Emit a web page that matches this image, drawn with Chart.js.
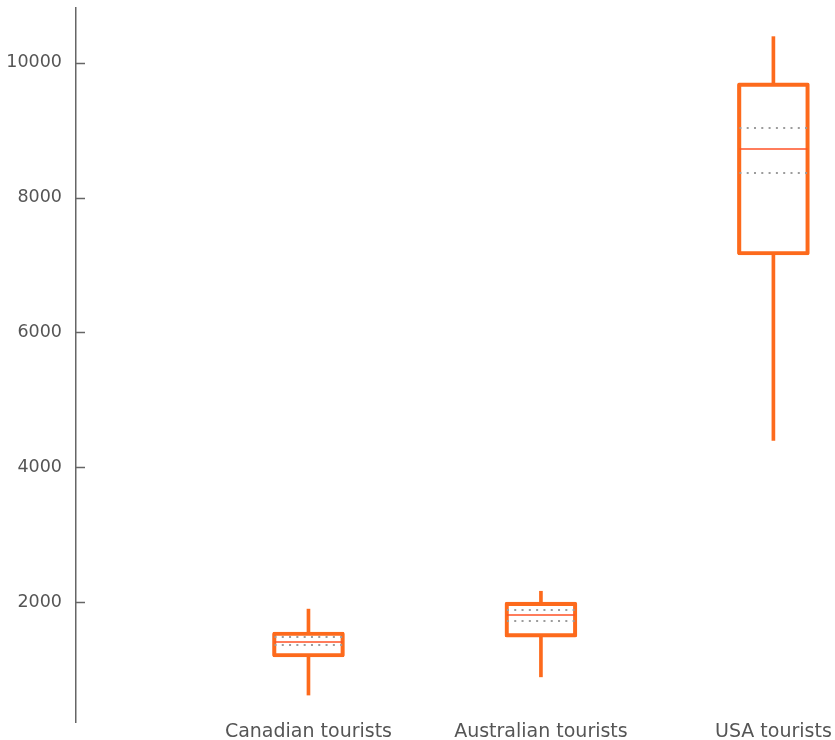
<!DOCTYPE html>
<html>
<head>
<meta charset="utf-8">
<script src="https://cdn.jsdelivr.net/npm/chart.js@4/dist/chart.umd.min.js"></script>
<style>
  html,body{margin:0;padding:0;background:#fff;}
  #wrap{width:835px;height:740px;position:relative;}
</style>
</head>
<body>
<div id="wrap"><canvas id="box"></canvas></div>
<script>
// data
var categories=['Canadian tourists','Australian tourists','USA tourists'];
var positions=[1,2,3];
var whiskerLow=[620,890,4400];
var boxLow=[1185,1480,7150];
var median=[1405,1805,8725];
var boxHigh=[1555,2000,9705];
var whiskerHigh=[1895,2160,10390];
var notchLow=[1360,1720,8365];
var notchHigh=[1480,1880,9035];
var yTicks=[2000,4000,6000,8000,10000];

var orange='#fd6a1c';
var axisGrey='#666';
var textGrey='#555';

function pairs(lo,hi){
    return positions.map(function(p,i){return {x:p,y:[lo[i],hi[i]]};});
}

function noPad(s){
    s.paddingTop=0;s.paddingBottom=0;s.paddingLeft=0;s.paddingRight=0;
}

// median line, dotted notch lines and inner y ticks
var boxExtras={
    id:'boxExtras',
    afterDatasetsDraw:function(chart){
        var ctx=chart.ctx, xs=chart.scales.x, ys=chart.scales.y;
        var half=34;
        ctx.save();
        positions.forEach(function(p,i){
            var cx=xs.getPixelForValue(p);
            ctx.lineWidth=2;
            ctx.strokeStyle='#9c9c9c';
            ctx.setLineDash([2,5.3]);
            [notchLow[i],notchHigh[i]].forEach(function(v){
                var y=Math.round(ys.getPixelForValue(v));
                ctx.beginPath();ctx.moveTo(cx-half,y);ctx.lineTo(cx+half,y);ctx.stroke();
            });
            ctx.setLineDash([]);
            ctx.lineWidth=1.5;
            ctx.strokeStyle='#ff5226';
            var ym=Math.round(ys.getPixelForValue(median[i]));
            ctx.beginPath();ctx.moveTo(cx-half,ym);ctx.lineTo(cx+half,ym);ctx.stroke();
        });
        var left=chart.chartArea.left;
        ctx.strokeStyle=axisGrey;
        ctx.lineWidth=1.5;
        yTicks.forEach(function(v){
            var y=Math.round(ys.getPixelForValue(v))+0.5;
            ctx.beginPath();ctx.moveTo(left,y);ctx.lineTo(left+9,y);ctx.stroke();
        });
        ctx.restore();
    }
};

new Chart(document.getElementById('box'),{
    type:'bar',
    data:{
        datasets:[
            {
                data:pairs(boxLow,boxHigh),
                backgroundColor:'rgba(255,255,255,0)',
                borderColor:orange,
                borderWidth:3.5,
                borderRadius:2,
                borderSkipped:false,
                barThickness:72,
                grouped:false,
                order:1
            },
            {
                data:pairs(whiskerLow,boxLow),
                backgroundColor:orange,
                borderWidth:0,
                barThickness:3,
                grouped:false,
                order:2
            },
            {
                data:pairs(boxHigh,whiskerHigh),
                backgroundColor:orange,
                borderWidth:0,
                barThickness:3,
                grouped:false,
                order:2
            }
        ]
    },
    options:{
        responsive:true,
        maintainAspectRatio:false,
        animation:false,
        layout:{padding:{top:8,left:0,right:0,bottom:0}},
        plugins:{legend:{display:false},tooltip:{enabled:false}},
        scales:{
            x:{
                type:'linear',
                offset:false,
                min:0,
                max:3.265,
                grid:{display:false,drawTicks:false},
                border:{display:false},
                afterBuildTicks:function(s){s.ticks=positions.map(function(v){return {value:v};});},
                afterFit:function(s){s.height=18;noPad(s);},
                ticks:{
                    padding:-1,
                    maxRotation:0,
                    autoSkip:false,
                    color:textGrey,
                    font:{family:'DejaVu Sans',size:19},
                    callback:function(v){var i=positions.indexOf(v);return i<0?'':categories[i];}
                }
            },
            y:{
                min:220,
                max:10815,
                grid:{display:false,drawTicks:false},
                border:{display:true,color:axisGrey,width:1.5},
                afterBuildTicks:function(s){s.ticks=yTicks.map(function(v){return {value:v};});},
                afterFit:function(s){s.width=76;noPad(s);},
                ticks:{
                    padding:14,
                    color:textGrey,
                    font:{family:'DejaVu Sans',size:17.5},
                    callback:function(v){return String(v);}
                }
            }
        }
    },
    plugins:[boxExtras]
});
</script>
</body>
</html>
